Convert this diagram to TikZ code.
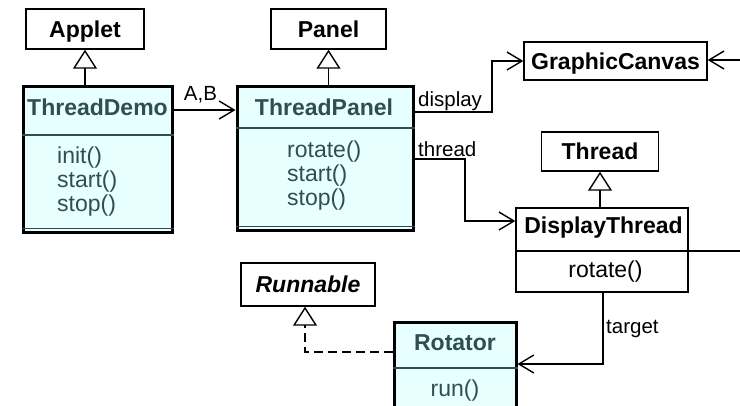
\documentclass[tikz,border=0pt]{standalone}
\usepackage{fontspec}
\setmainfont{Liberation Sans}
\usetikzlibrary{arrows.meta}
\definecolor{fillc}{HTML}{E8FFFF}
\definecolor{txtc}{HTML}{2F4F4F}
\begin{document}
\begin{tikzpicture}[x=1pt,y=-1pt,
  plainbox/.style={draw=black, line width=1.4pt, fill=white, inner sep=0pt,
    font=\fontsize{23}{24}\selectfont\bfseries, text height=16.5pt, text depth=0pt},
  classbox/.style={draw=black, line width=3pt, fill=fillc, inner sep=0pt},
  linebox/.style={draw=black, line width=1.4pt, fill=white, inner sep=0pt},
  nametext/.style={anchor=base, inner sep=0pt, text=txtc, font=\fontsize{23}{24}\selectfont\bfseries},
  methtext/.style={anchor=base west, inner sep=0pt, text=txtc, font=\fontsize{23}{24}\selectfont},
  lbl/.style={inner sep=0pt, font=\fontsize{20.5}{22}\selectfont},
  divider/.style={draw=txtc, line width=1.4pt},
  conn/.style={line width=1.4pt},
  gen/.style={conn, -{Triangle[open, width=24pt, length=19pt]}},
  assoc/.style={conn, -{Straight Barb[length=15pt, width=18pt]}},
]
\useasboundingbox (0,0) rectangle (740,405);
\clip (0,0) rectangle (740,405);
\fill[white] (0,0) rectangle (740,405);

% plain boxes
\node[plainbox, minimum width=118pt, minimum height=40pt] (applet) at (85,29) {Applet};
\node[plainbox, minimum width=115pt, minimum height=40pt] (panel) at (328.5,29) {Panel};
\node[plainbox, minimum width=183pt, minimum height=38pt] (gc) at (615.5,61) {GraphicCanvas};
\node[plainbox, minimum width=117pt, minimum height=39pt] (thread) at (600,151.5) {Thread};
\node[plainbox, minimum width=134pt, minimum height=43pt, font=\fontsize{23}{24}\selectfont\bfseries\itshape] (runnable) at (308,284.5) {Runnable};

% ThreadDemo
\node[classbox, minimum width=149pt, minimum height=146pt] (td) at (97.5,159) {};
\draw[divider] (td.west |- 0,135) -- (td.east |- 0,135);
\draw[draw=txtc, line width=0.8pt] (td.west |- 0,228.5) -- (td.east |- 0,228.5);
\node[nametext] (tdname) at (97.5,115) {ThreadDemo};
\node[methtext] (tdm1) at (57,163) {init()};
\node[methtext] (tdm2) at (57,187) {start()};
\node[methtext] (tdm3) at (57,211) {stop()};

% ThreadPanel
\node[classbox, minimum width=176pt, minimum height=144pt] (tp) at (325,158) {};
\draw[divider] (tp.west |- 0,128) -- (tp.east |- 0,128);
\draw[draw=txtc, line width=0.8pt] (tp.west |- 0,226.5) -- (tp.east |- 0,226.5);
\node[nametext] (tpname) at (324,115) {ThreadPanel};
\node[methtext] (tpm1) at (287,157) {rotate()};
\node[methtext] (tpm2) at (287,181) {start()};
\node[methtext] (tpm3) at (287,205) {stop()};

% DisplayThread
\node[linebox, minimum width=172pt, minimum height=84pt] (dt) at (602,250) {};
\draw[conn] (dt.west |- 0,251) -- (dt.east |- 0,251);
\node[nametext, text=black] (dtname) at (603.5,233) {DisplayThread};
\node[nametext, text=black, font=\fontsize{23}{24}\selectfont] (dtm1) at (605.5,277) {rotate()};

% Rotator
\node[classbox, minimum width=122pt, minimum height=118pt] (rot) at (455,381) {};
\draw[divider] (rot.west |- 0,368) -- (rot.east |- 0,368);
\node[nametext] (rotname) at (455,350) {Rotator};
\node[nametext, font=\fontsize{23}{24}\selectfont] (rotm1) at (455,396) {run()};

% generalizations
\draw[gen] (td.north -| applet.south) -- (applet.south);
\draw[gen] (tp.north -| panel.south) -- (panel.south);
\draw[gen] (dt.north -| thread.south) -- (thread.south);
\coordinate (rb) at (305,352);
\draw[gen, dash pattern=on 9pt off 5pt] (rot.west |- rb) -- (rb) -- ([xshift=-3pt]runnable.south);

% associations
\draw[assoc] (td.east |- 0,110) -- (tp.west |- 0,110);
\node[lbl, anchor=base] (labAB) at (200.5,100) {A,B};

\coordinate (d1) at (492,112);
\draw[assoc] (tp.east |- d1) -- (d1) |- (gc.west);
\node[lbl, anchor=base west] (labdisp) at (418,106) {display};

\coordinate (t1) at (465,159);
\draw[assoc] (tp.east |- t1) -- (t1) |- (dt.west |- 0,221);
\node[lbl, anchor=base west] (labthr) at (418,156) {thread};

\coordinate (gcr) at (742,60);
\draw[assoc] (gcr) -- (gc.east |- gcr);

\coordinate (dtr) at (742,251);
\draw[conn] (dt.east |- dtr) -- (dtr);

\coordinate (tg) at (603,364);
\draw[assoc] (dt.south -| tg) -- (tg) -- (rot.east |- tg);
\node[lbl, anchor=base west] (labtgt) at (606,333) {target};
\end{tikzpicture}
\end{document}
